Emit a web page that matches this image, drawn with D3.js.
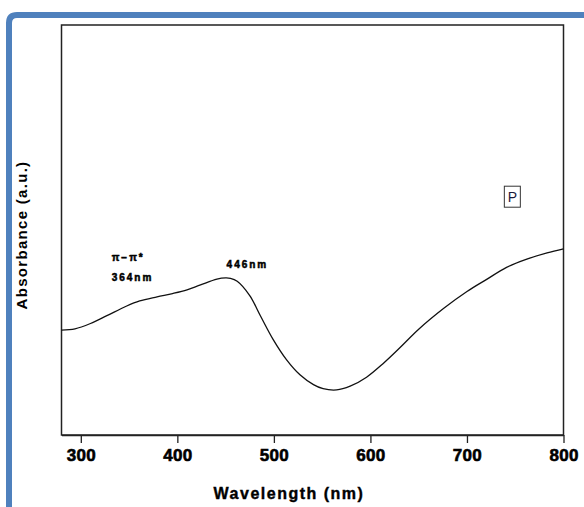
<!DOCTYPE html>
<html>
<head>
<meta charset="utf-8">
<script src="https://cdn.jsdelivr.net/npm/d3@7"></script>
<style>
  body { margin: 0; background: #fff; }
  svg { display: block; }
  .tick-label { font-family: "Liberation Sans", Arial, sans-serif; font-weight: bold; font-size: 17px; }
</style>
</head>
<body>
<div id="chart"></div>
<script>
// svg size
var svgWidth = 584;
var svgHeight = 507;

// plot box in page pixels
var margin = { top: 25, right: 20.5, bottom: 72, left: 61.5 };
var width = svgWidth - margin.left - margin.right;
var height = svgHeight - margin.top - margin.bottom;

// spectrum (wavelength in nm, absorbance in a.u.)
var wavelength = [280, 294, 310, 327, 347, 361, 379, 395, 410, 424, 441, 450, 455, 462,
  475, 486, 499, 513, 527, 541, 551, 565, 579, 596, 613, 631, 650, 676, 700, 720, 741, 762, 783, 800];
var absorbance = [0.256, 0.259, 0.272, 0.291, 0.314, 0.327, 0.337, 0.345, 0.354, 0.366, 0.380, 0.383, 0.382, 0.375,
  0.340, 0.291, 0.234, 0.184, 0.147, 0.123, 0.113, 0.110, 0.119, 0.141, 0.174, 0.214, 0.258, 0.309, 0.350, 0.379, 0.409, 0.429, 0.444, 0.454];

var xTicks = [300, 400, 500, 600, 700, 800];

// peak labels: text, wavelength, absorbance
var peakText = ["\u03c0\u2212\u03c0*", "364nm", "446nm"];
var peakNm = [332, 332, 451];
var peakAbs = [0.425, 0.375, 0.408];

var sampleLabel = "P";
var sampleNm = 747;
var sampleAbs = 0.58;

var svg = d3.select("#chart")
  .append("svg")
  .attr("width", svgWidth)
  .attr("height", svgHeight);

// blue slide frame, rounded at the top left
svg.append("path")
  .attr("d", "M9,507 L9,23 Q9,15 17,15 L584,15")
  .attr("fill", "none")
  .attr("stroke", "#4f81bd")
  .attr("stroke-width", 6);

var chartGroup = svg.append("g")
  .attr("transform", `translate(${margin.left}, ${margin.top})`);

var xScale = d3.scaleLinear().domain([280, 800]).range([0, width]);
var yScale = d3.scaleLinear().domain([0, 1]).range([height, 0]);

// box around plot
chartGroup.append("rect")
  .attr("x", 0)
  .attr("y", 0)
  .attr("width", width)
  .attr("height", height)
  .attr("fill", "none")
  .attr("stroke", "#222")
  .attr("stroke-width", 1.5);

// bottom axis
var bottomAxis = d3.axisBottom(xScale)
  .tickValues(xTicks)
  .tickSizeInner(8)
  .tickSizeOuter(0)
  .tickPadding(6);

var xAxisG = chartGroup.append("g")
  .attr("transform", `translate(0, ${height})`)
  .call(bottomAxis);
xAxisG.select(".domain").attr("stroke", "#222").attr("stroke-width", 1.5);
xAxisG.selectAll(".tick line").attr("stroke", "#222").attr("stroke-width", 1.3);
xAxisG.selectAll(".tick text")
  .attr("class", "tick-label")
  .attr("fill", "#000")
  .attr("stroke", "#000")
  .attr("stroke-width", 0.6)
  .attr("letter-spacing", "0.3px");

// spectrum line
var points = wavelength.map((w, i) => ({ w: w, a: absorbance[i] }));
var line = d3.line()
  .x(d => xScale(d.w))
  .y(d => yScale(d.a))
  .curve(d3.curveCatmullRom);

chartGroup.append("path")
  .datum(points)
  .attr("d", line)
  .attr("fill", "none")
  .attr("stroke", "#111")
  .attr("stroke-width", 1.3);

// peak annotations
chartGroup.selectAll(".peak")
  .data(peakText)
  .enter()
  .append("text")
  .attr("class", "peak")
  .attr("x", (d, i) => xScale(peakNm[i]))
  .attr("y", (d, i) => yScale(peakAbs[i]))
  .attr("font-family", "Liberation Sans, Arial, sans-serif")
  .attr("font-weight", "bold")
  .attr("font-size", 10)
  .attr("stroke", "#000")
  .attr("stroke-width", 0.5)
  .attr("letter-spacing", "2px")
  .text(d => d);

// sample label in a box
var px = xScale(sampleNm), py = yScale(sampleAbs);
chartGroup.append("rect")
  .attr("x", px - 8)
  .attr("y", py - 11)
  .attr("width", 16)
  .attr("height", 21)
  .attr("fill", "#fff")
  .attr("stroke", "#333")
  .attr("stroke-width", 1);
chartGroup.append("text")
  .attr("x", px)
  .attr("y", py + 5)
  .attr("text-anchor", "middle")
  .attr("font-family", "Liberation Sans, Arial, sans-serif")
  .attr("font-size", 14)
  .attr("fill", "#1a1a3a")
  .text(sampleLabel);

// axis titles
svg.append("text")
  .attr("transform", "translate(27, 235) rotate(-90)")
  .attr("text-anchor", "middle")
  .attr("font-family", "Liberation Sans, Arial, sans-serif")
  .attr("font-weight", "bold")
  .attr("font-size", 15)
  .attr("letter-spacing", "1.3px")
  .text("Absorbance (a.u.)");

svg.append("text")
  .attr("x", 289)
  .attr("y", 499)
  .attr("text-anchor", "middle")
  .attr("font-family", "Liberation Sans, Arial, sans-serif")
  .attr("font-weight", "bold")
  .attr("font-size", 16)
  .attr("stroke", "#000")
  .attr("stroke-width", 0.4)
  .attr("letter-spacing", "1.5px")
  .text("Wavelength (nm)");
</script>
</body>
</html>
